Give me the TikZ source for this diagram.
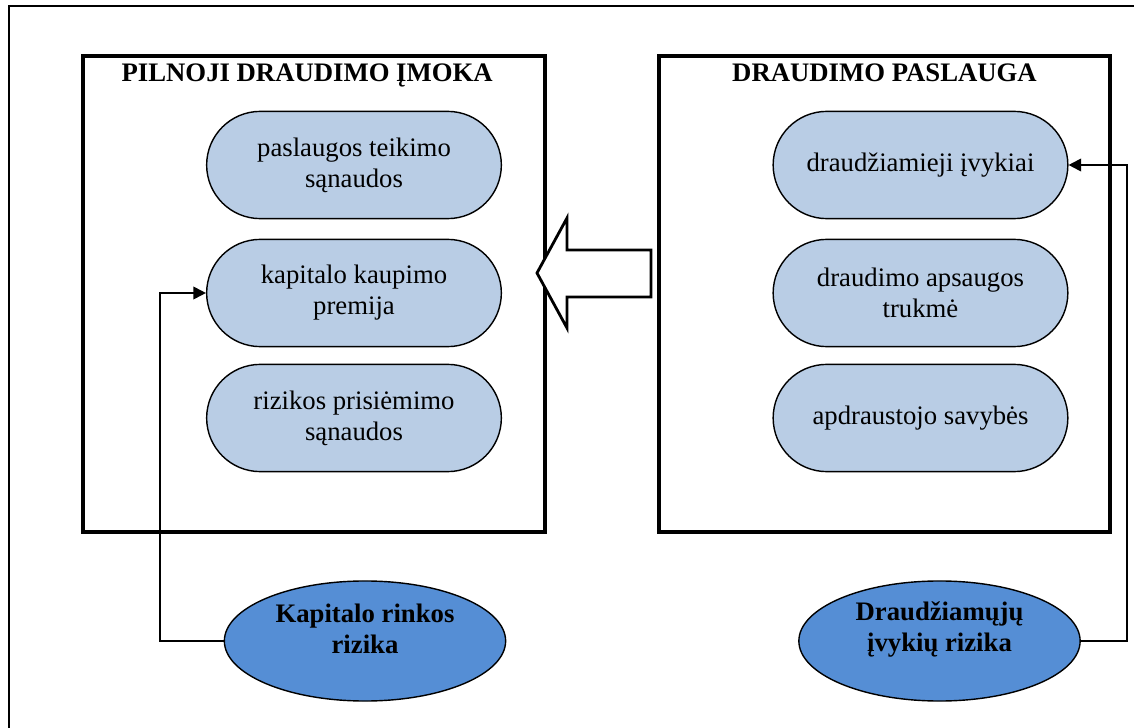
\documentclass[tikz,border=0pt]{standalone}
\usepackage{fontspec}
\setmainfont{Liberation Serif}
\usetikzlibrary{shapes.geometric,shapes.misc,positioning,arrows.meta}

\definecolor{pillblue}{HTML}{B9CDE5}
\definecolor{riskblue}{HTML}{558ED5}

\tikzset{
    partbox/.style={draw, line width=2.8pt, inner sep=0pt},
    boxtitle/.style={font=\fontsize{19}{22}\selectfont\bfseries, anchor=north},
    pill/.style={draw, line width=1pt, fill=pillblue, rounded rectangle,
        minimum width=7.6cm, minimum height=2.68cm, align=center,
        font=\fontsize{19}{22}\selectfont},
    risk/.style={draw, line width=1pt, fill=riskblue, ellipse,
        minimum width=7.03cm, minimum height=3cm},
    risktext/.style={align=center, font=\fontsize{19}{22}\selectfont\bfseries},
    conn/.style={line width=1.4pt, -{Triangle[length=9pt,width=9pt]}}
}

\begin{document}
\begin{tikzpicture}[x=0.025cm, y=-0.025cm]
    \useasboundingbox (0,0) rectangle (1134,728);
    \begin{scope}
        \clip (0,0) rectangle (1134,728);
        \draw[line width=1pt] (9,6) rectangle (1160,760);
    \end{scope}

    % two main parts
    \node[partbox, minimum width=11.55cm, minimum height=11.875cm] (imoka) at (314,294) {};
    \node[boxtitle] (imokaTitle) at ([xshift=-0.17cm,yshift=-0.12cm]imoka.north) {PILNOJI DRAUDIMO ĮMOKA};
    \node[partbox, minimum width=11.275cm, minimum height=11.875cm] (paslauga) at (884.5,294) {};
    \node[boxtitle] (paslaugaTitle) at ([yshift=-0.12cm]paslauga.north) {DRAUDIMO PASLAUGA};

    % components of the premium
    \node[pill] (sanaudos) at (354,165) {paslaugos teikimo\\sąnaudos};
    \node[pill] (premija) at (354,293) {kapitalo kaupimo\\premija};
    \node[pill] (rizika) at (354,418) {rizikos prisiėmimo\\sąnaudos};

    % components of the service
    \node[pill] (ivykiai) at (920.5,165) {draudžiamieji įvykiai};
    \node[pill] (trukme) at (920.5,293) {draudimo apsaugos\\trukmė};
    \node[pill] (savybes) at (920.5,418) {apdraustojo savybės};

    % block arrow
    \draw[line width=2pt, fill=white] (651,250) -- (567,250) -- (567,218) -- (537,273)
        -- (567,328) -- (567,297) -- (651,297) -- cycle;

    % risks
    \node[risk] (kapitalas) at (365,641) {};
    \node[risktext] at ([yshift=0.3cm]kapitalas.center) {Kapitalo rinkos\\rizika};
    \node[risk] (ivykiuRizika) at (939.5,641) {};
    \node[risktext] at ([yshift=0.3cm]ivykiuRizika.center) {Draudžiamųjų\\įvykių rizika};

    \draw[conn] (kapitalas.west) -| (160,293) -- (premija.west);
    \draw[conn] (ivykiuRizika.east) -| (1127,165) -- (ivykiai.east);
\end{tikzpicture}
\end{document}
